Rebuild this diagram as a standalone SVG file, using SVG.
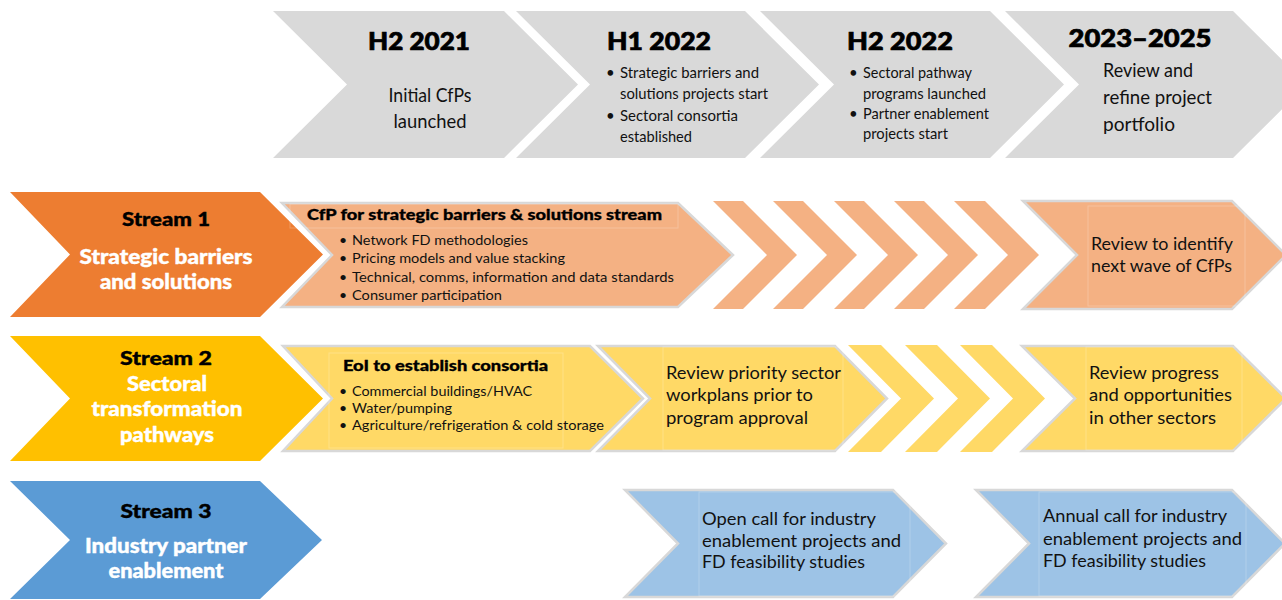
<svg xmlns="http://www.w3.org/2000/svg" width="1282" height="600" viewBox="0 0 1282 600">
<style>
.gray{fill:#D9D9D9}
.o1{fill:#ED7D31}
.o2{fill:#F4B183}
.y1{fill:#FFC000}
.y2{fill:#FFD966}
.b1{fill:#5B9BD5}
.b2{fill:#9DC3E6}
.ol{stroke:#D8D8D8;stroke-width:2.5;stroke-linejoin:miter}
.tb{fill:none;stroke:#FFFFFF;stroke-opacity:0.22;stroke-width:1}
text{font-family:Lato,"Open Sans","Liberation Sans",sans-serif}
.hd{font-weight:900;font-size:24px;fill:#000;stroke:#000;stroke-width:0.7;text-anchor:middle}
.big{font-size:20px;fill:#111}
.bd{font-size:15px;fill:#111}
.sm{font-size:14px;fill:#111}
.rv{font-size:18px;fill:#111}
.sl{font-weight:900;font-size:19px;fill:#000;stroke:#000;stroke-width:0.4;text-anchor:middle}
.sw{font-weight:900;font-size:20px;fill:#fff;stroke:#fff;stroke-width:0.4;text-anchor:middle}
.bt{font-weight:900;font-size:15px;fill:#000;stroke:#000;stroke-width:0.3}
</style>
<g id="connectors"/>
<!-- Timeline header -->
<g id="h2-2021">
<polygon class="gray" points="273,11 504,11 578,84.5 504,158 273,158 347,84.5"/>
<text class="hd" x="419" y="50" textLength="102" lengthAdjust="spacingAndGlyphs">H2 2021</text>
<text class="big" x="430" y="102" text-anchor="middle" textLength="83" lengthAdjust="spacingAndGlyphs">Initial CfPs</text>
<text class="big" x="430" y="128" text-anchor="middle" textLength="73" lengthAdjust="spacingAndGlyphs">launched</text>
</g>
<g id="h1-2022">
<polygon class="gray" points="516,11 745,11 819,84.5 745,158 516,158 590,84.5"/>
<text class="hd" x="659" y="50" textLength="104" lengthAdjust="spacingAndGlyphs">H1 2022</text>
<text class="bd" x="606" y="78">•</text>
<text class="bd" x="620" y="78" textLength="139" lengthAdjust="spacingAndGlyphs">Strategic barriers and</text>
<text class="bd" x="620" y="99" textLength="148" lengthAdjust="spacingAndGlyphs">solutions projects start</text>
<text class="bd" x="606" y="121">•</text>
<text class="bd" x="620" y="121" textLength="118" lengthAdjust="spacingAndGlyphs">Sectoral consortia</text>
<text class="bd" x="620" y="142" textLength="72" lengthAdjust="spacingAndGlyphs">established</text>
</g>
<g id="h2-2022">
<polygon class="gray" points="760,11 990,11 1064,84.5 990,158 760,158 834,84.5"/>
<text class="hd" x="900" y="50" textLength="106" lengthAdjust="spacingAndGlyphs">H2 2022</text>
<text class="bd" x="849" y="78">•</text>
<text class="bd" x="863" y="78" textLength="109" lengthAdjust="spacingAndGlyphs">Sectoral pathway</text>
<text class="bd" x="863" y="99" textLength="123" lengthAdjust="spacingAndGlyphs">programs launched</text>
<text class="bd" x="849" y="119">•</text>
<text class="bd" x="863" y="119" textLength="126" lengthAdjust="spacingAndGlyphs">Partner enablement</text>
<text class="bd" x="863" y="139" textLength="85" lengthAdjust="spacingAndGlyphs">projects start</text>
</g>
<g id="y2023-2025">
<polygon class="gray" points="1005,11 1233,11 1307,84.5 1233,158 1005,158 1079,84.5"/>
<text class="hd" x="1140" y="47" textLength="143" lengthAdjust="spacingAndGlyphs">2023–2025</text>
<text class="big" x="1103" y="77" textLength="90" lengthAdjust="spacingAndGlyphs">Review and</text>
<text class="big" x="1103" y="104" textLength="109" lengthAdjust="spacingAndGlyphs">refine project</text>
<text class="big" x="1103" y="131" textLength="72" lengthAdjust="spacingAndGlyphs">portfolio</text>
</g>
<!-- Stream 1 -->
<g id="stream1">
<polygon class="o1" points="10,192 260,192 323,254.5 260,317 10,317 70,254.5"/>
<text class="sl" x="166" y="226" textLength="88" lengthAdjust="spacingAndGlyphs">Stream 1</text>
<text class="sw" x="166" y="264" textLength="173" lengthAdjust="spacingAndGlyphs">Strategic barriers</text>
<text class="sw" x="166" y="289" textLength="132" lengthAdjust="spacingAndGlyphs">and solutions</text>
</g>
<g id="s1-cfp">
<polygon class="o2 ol" points="282,203 678,203 733,255 678,307 282,307 332,255"/>
<rect class="tb" x="290" y="204" width="388" height="24"/>
<text class="bt" x="307" y="220" textLength="355" lengthAdjust="spacingAndGlyphs">CfP for strategic barriers &amp; solutions stream</text>
<text class="sm" x="339" y="245">•</text>
<text class="sm" x="352" y="245" textLength="176" lengthAdjust="spacingAndGlyphs">Network FD methodologies</text>
<text class="sm" x="339" y="263">•</text>
<text class="sm" x="352" y="263" textLength="213" lengthAdjust="spacingAndGlyphs">Pricing models and value stacking</text>
<text class="sm" x="339" y="282">•</text>
<text class="sm" x="352" y="282" textLength="322" lengthAdjust="spacingAndGlyphs">Technical, comms, information and data standards</text>
<text class="sm" x="339" y="300">•</text>
<text class="sm" x="352" y="300" textLength="150" lengthAdjust="spacingAndGlyphs">Consumer participation</text>
</g>
<g id="s1-steps">
<polygon class="o2" points="713,201 743,201 797,255 743,309 713,309 767,255"/>
<polygon class="o2" points="773,201 803,201 857,255 803,309 773,309 827,255"/>
<polygon class="o2" points="834,201 864,201 918,255 864,309 834,309 888,255"/>
<polygon class="o2" points="894,201 924,201 978,255 924,309 894,309 948,255"/>
<polygon class="o2" points="954,201 985,201 1039,255 985,309 954,309 1008,255"/>
</g>
<g id="s1-review">
<polygon class="o2 ol" points="1023,201 1232,201 1286,255 1232,309 1023,309 1077,255"/>
<rect class="tb" x="1088" y="206" width="157" height="100"/>
<text class="rv" x="1091" y="250" textLength="142" lengthAdjust="spacingAndGlyphs">Review to identify</text>
<text class="rv" x="1091" y="272" textLength="141" lengthAdjust="spacingAndGlyphs">next wave of CfPs</text>
</g>
<!-- Stream 2 -->
<g id="stream2">
<polygon class="y1" points="10,336 260,336 323,398.5 260,461 10,461 70,398.5"/>
<text class="sl" x="166" y="365" textLength="92" lengthAdjust="spacingAndGlyphs">Stream 2</text>
<text class="sw" x="167" y="391" textLength="80" lengthAdjust="spacingAndGlyphs">Sectoral</text>
<text class="sw" x="167" y="416" textLength="151" lengthAdjust="spacingAndGlyphs">transformation</text>
<text class="sw" x="167" y="442" textLength="94" lengthAdjust="spacingAndGlyphs">pathways</text>
</g>
<g id="s2-eoi">
<polygon class="y2 ol" points="283,346 590,346 643,398.5 590,451 283,451 332,398.5"/>
<rect class="tb" x="329" y="353" width="234" height="95"/>
<text class="bt" x="343" y="371" textLength="205" lengthAdjust="spacingAndGlyphs">EoI to establish consortia</text>
<text class="sm" x="339" y="396">•</text>
<text class="sm" x="352" y="396" textLength="180" lengthAdjust="spacingAndGlyphs">Commercial buildings/HVAC</text>
<text class="sm" x="339" y="413">•</text>
<text class="sm" x="352" y="413" textLength="100" lengthAdjust="spacingAndGlyphs">Water/pumping</text>
<text class="sm" x="339" y="430">•</text>
<text class="sm" x="352" y="430" textLength="252" lengthAdjust="spacingAndGlyphs">Agriculture/refrigeration &amp; cold storage</text>
</g>
<g id="s2-review-priority">
<polygon class="y2 ol" points="598,346 835,346 887,398.5 835,451 598,451 650,398.5"/>
<rect class="tb" x="663" y="347" width="180" height="103"/>
<text class="rv" x="666" y="379" textLength="175" lengthAdjust="spacingAndGlyphs">Review priority sector</text>
<text class="rv" x="666" y="401" textLength="147" lengthAdjust="spacingAndGlyphs">workplans prior to</text>
<text class="rv" x="666" y="424" textLength="142" lengthAdjust="spacingAndGlyphs">program approval</text>
</g>
<g id="s2-steps">
<polygon class="y2" points="848,345 881,345 934,398.5 881,452 848,452 901,398.5"/>
<polygon class="y2" points="905,345 937,345 990,398.5 937,452 905,452 958,398.5"/>
<polygon class="y2" points="960,345 992,345 1045,398.5 992,452 960,452 1013,398.5"/>
</g>
<g id="s2-review-progress">
<polygon class="y2 ol" points="1022,346 1233,346 1286,398.5 1233,451 1022,451 1075,398.5"/>
<rect class="tb" x="1086" y="347" width="156" height="103"/>
<text class="rv" x="1089" y="379" textLength="130" lengthAdjust="spacingAndGlyphs">Review progress</text>
<text class="rv" x="1089" y="401" textLength="143" lengthAdjust="spacingAndGlyphs">and opportunities</text>
<text class="rv" x="1089" y="424" textLength="127" lengthAdjust="spacingAndGlyphs">in other sectors</text>
</g>
<!-- Stream 3 -->
<g id="stream3">
<polygon class="b1" points="10,481 260,481 322,540 260,599 10,599 70,540"/>
<text class="sl" x="166" y="518" textLength="91" lengthAdjust="spacingAndGlyphs">Stream 3</text>
<text class="sw" x="166" y="553" textLength="162" lengthAdjust="spacingAndGlyphs">Industry partner</text>
<text class="sw" x="166" y="578" textLength="115" lengthAdjust="spacingAndGlyphs">enablement</text>
</g>
<g id="s3-open-call">
<polygon class="b2 ol" points="625,490 893,490 946,543.5 893,597 625,597 678,543.5"/>
<rect class="tb" x="699" y="492" width="211" height="104"/>
<text class="rv" x="702" y="525" textLength="174" lengthAdjust="spacingAndGlyphs">Open call for industry</text>
<text class="rv" x="702" y="547" textLength="199" lengthAdjust="spacingAndGlyphs">enablement projects and</text>
<text class="rv" x="702" y="568" textLength="163" lengthAdjust="spacingAndGlyphs">FD feasibility studies</text>
</g>
<g id="s3-annual-call">
<polygon class="b2 ol" points="976,490 1232,490 1285,543.5 1232,597 976,597 1029,543.5"/>
<rect class="tb" x="1039" y="492" width="207" height="104"/>
<text class="rv" x="1043" y="522" textLength="184" lengthAdjust="spacingAndGlyphs">Annual call for industry</text>
<text class="rv" x="1043" y="545" textLength="199" lengthAdjust="spacingAndGlyphs">enablement projects and</text>
<text class="rv" x="1043" y="567" textLength="163" lengthAdjust="spacingAndGlyphs">FD feasibility studies</text>
</g>
</svg>
